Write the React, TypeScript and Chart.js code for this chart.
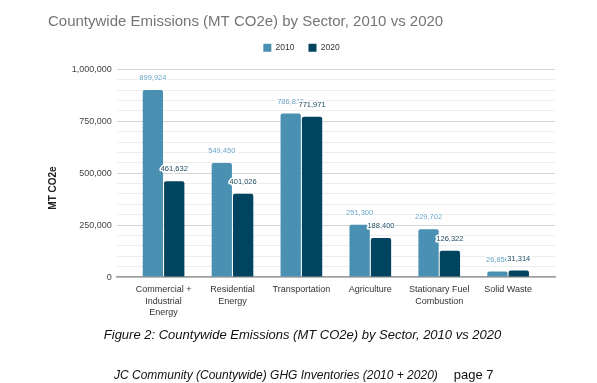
import React, { useEffect, useRef } from 'react';
import { Chart, registerables } from 'chart.js';

Chart.register(...registerables);

const categories: (string | string[])[] = [
  ['Commercial +', 'Industrial', 'Energy'],
  ['Residential', 'Energy'],
  'Transportation',
  'Agriculture',
  ['Stationary Fuel', 'Combustion'],
  'Solid Waste',
];
const seriesNames = ['2010', '2020'];
const values2010 = [899924, 549450, 786815, 251300, 229702, 26856];
const values2020 = [461632, 401026, 771971, 188400, 126322, 31314];
const yMax = 1000000;
const yMajorStep = 250000;
const yMinorStep = 50000;

const chartTitle = 'Countywide Emissions (MT CO2e) by Sector, 2010 vs 2020';
const yAxisTitle = 'MT CO2e';
const caption = 'Figure 2: Countywide Emissions (MT CO2e) by Sector, 2010 vs 2020';
const footer = 'JC Community (Countywide) GHG Inventories (2010 + 2020)';
const pageLabel = 'page 7';

const COLOR_2010 = '#4a90b2';
const COLOR_2020 = '#00445f';
const LABEL_2010 = '#6ea6c8';
const LABEL_2020 = '#1e4a62';
const FONT = '"Liberation Sans", Arial, sans-serif';

const fmt = (v: number) => v.toLocaleString('en-US');

const legendSpacer = {
  id: 'legendSpacer',
  beforeLayout(chart: any) {
    const lg = chart.legend;
    if (lg && !lg.__patched) {
      const orig = lg.fit.bind(lg);
      lg.fit = () => {
        orig();
        lg.height += 7.3;
      };
      lg.__patched = true;
    }
  },
};

const valueLabels = {
  id: 'valueLabels',
  afterDatasetsDraw(chart: any) {
    const ctx = chart.ctx;
    ctx.save();
    ctx.font = `7.5px ${FONT}`;
    ctx.textAlign = 'center';
    ctx.textBaseline = 'middle';
    chart.data.datasets.forEach((ds: any, di: number) => {
      const meta = chart.getDatasetMeta(di);
      meta.data.forEach((el: any, i: number) => {
        const txt = fmt(ds.data[i]);
        const y = el.y - 12;
        ctx.lineWidth = 3;
        ctx.strokeStyle = '#ffffff';
        ctx.lineJoin = 'round';
        ctx.strokeText(txt, el.x, y);
        ctx.fillStyle = di === 0 ? LABEL_2010 : LABEL_2020;
        ctx.fillText(txt, el.x, y);
      });
    });
    ctx.restore();
  },
};

const yTitlePlugin = {
  id: 'yTitlePlugin',
  afterDraw(chart: any) {
    const ctx = chart.ctx;
    ctx.save();
    ctx.translate(53, 188);
    ctx.rotate(-Math.PI / 2);
    ctx.font = `bold 10px ${FONT}`;
    ctx.fillStyle = '#222222';
    ctx.textAlign = 'center';
    ctx.textBaseline = 'middle';
    ctx.fillText(yAxisTitle, 0, 0);
    ctx.restore();
  },
};

export default function App() {
  const ref = useRef<HTMLCanvasElement | null>(null);

  useEffect(() => {
    if (!ref.current) return;
    const chart = new Chart(ref.current, {
      type: 'bar',
      data: {
        labels: categories,
        datasets: [
          {
            label: seriesNames[0],
            data: values2010,
            backgroundColor: COLOR_2010,
            borderRadius: { topLeft: 2, topRight: 2 },
            borderSkipped: 'bottom',
            categoryPercentage: 0.62,
            barPercentage: 0.95,
          },
          {
            label: seriesNames[1],
            data: values2020,
            backgroundColor: COLOR_2020,
            borderRadius: { topLeft: 2, topRight: 2 },
            borderSkipped: 'bottom',
            categoryPercentage: 0.62,
            barPercentage: 0.95,
          },
        ],
      },
      options: {
        responsive: false,
        animation: false,
        devicePixelRatio: 1,
        layout: { padding: { left: 48, right: 42, top: 0, bottom: 58 } },
        plugins: {
          title: {
            display: true,
            text: chartTitle,
            align: 'start',
            color: '#757575',
            font: { family: FONT, size: 15, weight: 'normal', lineHeight: 1 },
            padding: { top: 14.5, bottom: 0 },
          },
          legend: {
            display: true,
            position: 'top',
            align: 'center',
            labels: {
              boxWidth: 8,
              boxHeight: 8,
              padding: 14,
              color: '#333333',
              font: { family: FONT, size: 8.5 },
            },
          },
          tooltip: { enabled: false },
        },
        scales: {
          x: {
            offset: true,
            afterBuildTicks: (scale: any) => {
              const m = 0.18;
              scale._startValue = -0.5 - m;
              scale._valueRange = categories.length + 2 * m;
            },
            grid: { display: true, color: 'rgba(0,0,0,0)', drawTicks: false },
            border: { display: true, color: '#9e9e9e', width: 1.5 },
            ticks: {
              autoSkip: false,
              maxRotation: 0,
              minRotation: 0,
              padding: 6,
              color: '#333333',
              font: { family: FONT, size: 9, lineHeight: 1.33 },
            },
          },
          y: {
            min: 0,
            max: yMax,
            afterFit: (scale: any) => {
              scale.width = 68.7;
            },
            grid: {
              drawTicks: false,
              color: (ctx: any) =>
                ctx.tick && ctx.tick.value % yMajorStep === 0 ? '#d4d4d4' : '#ededed',
              lineWidth: 1,
            },
            border: { display: false },
            ticks: {
              stepSize: yMinorStep,
              autoSkip: false,
              padding: 5,
              color: '#444444',
              font: { family: FONT, size: 9 },
              callback: (v: any) => (Number(v) % yMajorStep === 0 ? fmt(Number(v)) : ''),
            },
          },
        },
      } as any,
      plugins: [legendSpacer, valueLabels, yTitlePlugin],
    });
    return () => chart.destroy();
  }, []);

  return (
    <div style={{ position: 'fixed', left: 0, top: 0, width: 597, height: 383, background: '#ffffff' }}>
      <canvas ref={ref} width={597} height={383} style={{ display: 'block', width: 597, height: 383 }} />
      <div
        style={{
          position: 'absolute',
          left: 0,
          width: 597,
          top: 327,
          textAlign: 'center',
          fontFamily: FONT,
          fontStyle: 'italic',
          fontSize: 13,
          lineHeight: '16px',
          color: '#111111',
          paddingLeft: 8,
          boxSizing: 'border-box',
        }}
      >
        {caption}
      </div>
      <div
        style={{
          position: 'absolute',
          left: 114,
          top: 367,
          fontFamily: FONT,
          fontSize: 12,
          lineHeight: '16px',
          color: '#111111',
          whiteSpace: 'nowrap',
        }}
      >
        <span style={{ fontStyle: 'italic' }}>{footer}</span>
        <span style={{ marginLeft: 16, fontSize: 13 }}>{pageLabel}</span>
      </div>
    </div>
  );
}
